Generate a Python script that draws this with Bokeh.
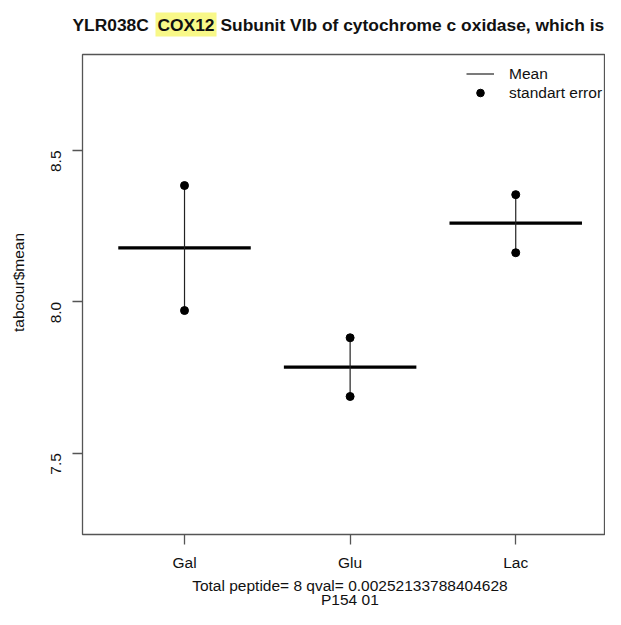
import math
from bokeh.plotting import figure
from bokeh.layouts import column, row
from bokeh.models import (FixedTicker, Label, Legend, LegendItem, Range1d,
                          PrintfTickFormatter)
from bokeh.embed import file_html
from bokeh.resources import INLINE

# ---------------- data ----------------
categories = ["Gal", "Glu", "Lac"]
means = [8.178, 7.784, 8.260]
se_upper = [8.384, 7.881, 8.354]
se_lower = [7.971, 7.687, 8.162]
y_ticks = [7.5, 8.0, 8.5]
plot_xlim = [0.384, 3.536]
plot_ylim = [7.231, 8.817]
title_parts = ["YLR038C", "COX12", "Subunit VIb of cytochrome c oxidase, which is"]
y_label = "tabcour$mean"
sub_lines = ["Total peptide= 8 qval= 0.00252133788404628", "P154 01"]
legend_labels = ["Mean", "standart error"]

# ---------------- style ----------------
FONT = "Liberation Sans"
TEXT = "#111111"
FS = "15.5px"
half = 0.4

xs = list(range(1, len(categories) + 1))


def strip(w, h):
    f = figure(width=w, height=h, output_backend="svg", toolbar_location=None,
               x_range=Range1d(0, 1), y_range=Range1d(0, 1),
               x_axis_type=None, y_axis_type=None,
               min_border_left=0, min_border_right=0, min_border_top=0,
               min_border_bottom=0)
    f.title.visible = False
    f.grid.visible = False
    f.outline_line_color = None
    f.frame_align = False
    return f


# ---- title strip ----
top = strip(605, 46)
tkw = dict(x_units="screen", y_units="screen", text_font=FONT, text_font_size="17.4px",
           text_font_style="bold", text_color=TEXT, text_baseline="alphabetic")
top.add_layout(Label(x=72, y=22, text=title_parts[0], **tkw))
top.add_layout(Label(x=155, y=22, text=title_parts[1], background_fill_color="#f8f888",
                     padding=2, **tkw))
top.add_layout(Label(x=220, y=22, text=title_parts[2], **tkw))

# ---- y label strip ----
left = strip(30, 529)
left.add_layout(Label(x=18, y=293, text=y_label, angle=math.pi / 2, x_units="screen",
                      y_units="screen", text_align="center", text_baseline="middle",
                      text_font=FONT, text_font_size=FS, text_color=TEXT))

# ---- bottom strip ----
bottom = strip(605, 34)
for txt, yy in zip(sub_lines, [24, 10]):
    bottom.add_layout(Label(x=349.4, y=yy, text=txt, x_units="screen", y_units="screen",
                            text_align="center", text_baseline="middle",
                            text_font=FONT, text_font_size=FS, text_color=TEXT))

# ---- main plot ----
p = figure(width=575, height=529, output_backend="svg", toolbar_location=None,
           x_range=Range1d(*plot_xlim), y_range=Range1d(*plot_ylim),
           min_border_left=52, min_border_right=1, min_border_top=8,
           min_border_bottom=41)
p.frame_align = False
p.title.visible = False
p.grid.visible = False
p.background_fill_color = "white"
p.border_fill_color = "white"
p.outline_line_color = "#555555"
p.outline_line_width = 1.3

p.xaxis.ticker = FixedTicker(ticks=xs)
p.xaxis.major_label_overrides = {x: c for x, c in zip(xs, categories)}
p.yaxis.ticker = FixedTicker(ticks=y_ticks)
p.yaxis.formatter = PrintfTickFormatter(format="%.1f")
p.yaxis.major_label_orientation = math.pi / 2
for ax in p.axis:
    ax.axis_line_color = None
    ax.major_tick_in = 0
    ax.major_tick_out = 10
    ax.major_tick_line_color = "#555555"
    ax.major_tick_line_width = 1.3
    ax.minor_tick_line_color = None
    ax.major_label_text_font = FONT
    ax.major_label_text_font_size = FS
    ax.major_label_text_color = TEXT
p.xaxis.major_label_standoff = 9
p.yaxis.major_label_standoff = 16

# marks
p.segment(x0=[x - half for x in xs], x1=[x + half for x in xs],
          y0=means, y1=means, line_color="black", line_width=3.2)
vseg = p.segment(x0=xs, x1=xs, y0=se_lower, y1=se_upper, line_color="#222222",
                 line_width=1.2)
pts = p.scatter(x=xs + xs, y=se_upper + se_lower, size=8, marker="circle",
                fill_color="black", line_color="black")

legend = Legend(items=[LegendItem(label=legend_labels[0], renderers=[vseg]),
                       LegendItem(label=legend_labels[1], renderers=[pts])],
                location=(384, 432), padding=0, margin=0, spacing=0,
                glyph_width=28, glyph_height=19, label_height=19, label_standoff=15,
                border_line_color=None, background_fill_alpha=0,
                label_text_font=FONT, label_text_font_size=FS, label_text_color=TEXT)
p.add_layout(legend)

layout = column(top, row(left, p, spacing=0), bottom, spacing=0)
open("out.html", "w").write(file_html(layout, INLINE))
